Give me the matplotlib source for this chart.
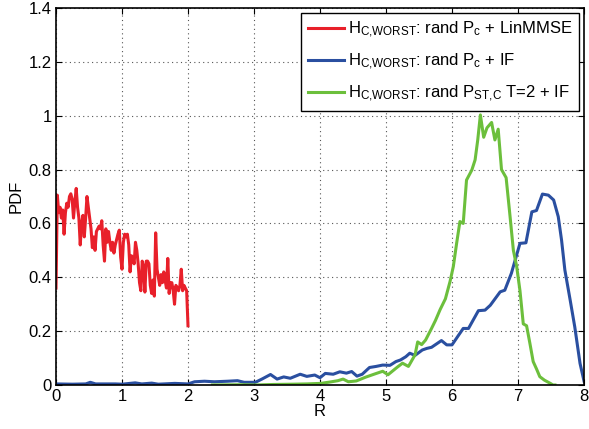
import numpy as np
import matplotlib
matplotlib.use("Agg")
import matplotlib.pyplot as plt

# red: LinMMSE, sampled 0..2 on an even grid
red_pdf = [0.36, 0.705, 0.64, 0.66, 0.62, 0.65, 0.56, 0.64, 0.675, 0.66,
           0.70, 0.71, 0.69, 0.62, 0.68, 0.73, 0.66, 0.62, 0.52, 0.60,
           0.63, 0.55, 0.62, 0.70, 0.66, 0.62, 0.58, 0.51, 0.55, 0.50,
           0.57, 0.58, 0.59, 0.58, 0.61, 0.52, 0.46, 0.58, 0.53, 0.57,
           0.53, 0.50, 0.53, 0.49, 0.52, 0.54, 0.56, 0.575, 0.475, 0.43,
           0.53, 0.56, 0.55, 0.56, 0.52, 0.42, 0.48, 0.47, 0.45, 0.53,
           0.50, 0.45, 0.38, 0.35, 0.46, 0.44, 0.345, 0.46, 0.46, 0.45,
           0.37, 0.34, 0.39, 0.33, 0.565, 0.43, 0.40, 0.37, 0.41, 0.38,
           0.42, 0.39, 0.36, 0.47, 0.34, 0.38, 0.38, 0.35, 0.30, 0.37,
           0.36, 0.35, 0.37, 0.43, 0.35, 0.37, 0.36, 0.35, 0.22]
red_r = np.linspace(0, 2, len(red_pdf))

# blue: rand Pc + IF
blue_r = [0.00, 0.25, 0.45, 0.52, 0.60, 0.90, 1.00, 1.20, 1.30, 1.45, 1.55, 1.80,
          2.00, 2.10, 2.25, 2.40, 2.60, 2.75, 2.85, 3.02, 3.12, 3.25, 3.35, 3.45,
          3.55, 3.70, 3.80, 3.92, 4.00, 4.08, 4.20, 4.30, 4.40, 4.48, 4.56, 4.64,
          4.75, 4.85, 4.95, 5.06, 5.15, 5.22, 5.30, 5.36, 5.44, 5.55, 5.62, 5.69,
          5.84, 5.92, 6.00, 6.10, 6.17, 6.25, 6.40, 6.50, 6.58, 6.73, 6.80, 6.90,
          7.03, 7.12, 7.21, 7.28, 7.37, 7.46, 7.54, 7.61, 7.66, 7.71, 7.79, 7.86,
          7.94, 8.00]
blue_pdf = [0.004, 0.003, 0.004, 0.010, 0.004, 0.004, 0.003, 0.008, 0.004, 0.007, 0.003, 0.006,
            0.004, 0.012, 0.014, 0.012, 0.014, 0.016, 0.010, 0.010, 0.022, 0.039, 0.022, 0.030,
            0.025, 0.040, 0.032, 0.037, 0.027, 0.043, 0.040, 0.049, 0.044, 0.050, 0.033, 0.040,
            0.065, 0.069, 0.074, 0.073, 0.087, 0.093, 0.105, 0.118, 0.110, 0.130, 0.136, 0.140,
            0.165, 0.149, 0.149, 0.185, 0.21, 0.21, 0.276, 0.278, 0.296, 0.346, 0.352, 0.415,
            0.526, 0.528, 0.643, 0.648, 0.709, 0.705, 0.687, 0.625, 0.538, 0.427, 0.316, 0.216,
            0.080, 0.015]

# green: rand P_ST,C T=2 + IF
green_r = [2.37, 2.80, 3.02, 3.30, 3.59, 3.80, 4.01, 4.15, 4.27, 4.35, 4.43, 4.55,
           4.69, 4.83, 4.95, 5.03, 5.17, 5.25, 5.34, 5.44, 5.48, 5.54, 5.60, 5.69,
           5.75, 5.82, 5.90, 5.97, 6.02, 6.07, 6.12, 6.17, 6.22, 6.30, 6.35, 6.39,
           6.43, 6.48, 6.53, 6.60, 6.65, 6.70, 6.75, 6.82, 6.88, 6.93, 6.98, 7.03,
           7.08, 7.13, 7.18, 7.23, 7.28, 7.33, 7.40, 7.49, 7.53, 7.56]
green_pdf = [0.0, 0.001, 0.0, 0.002, 0.003, 0.004, 0.006, 0.011, 0.016, 0.022, 0.012, 0.015,
             0.029, 0.041, 0.051, 0.038, 0.066, 0.081, 0.069, 0.112, 0.160, 0.150, 0.167, 0.21,
             0.24, 0.28, 0.32, 0.384, 0.44, 0.526, 0.607, 0.60, 0.761, 0.798, 0.836, 0.91,
             1.003, 0.92, 0.955, 0.975, 0.91, 0.95, 0.80, 0.77, 0.625, 0.50, 0.44, 0.35,
             0.227, 0.22, 0.155, 0.087, 0.06, 0.031, 0.018, 0.006, 0.0, 0.0]

labels = [r"H$_{C{,}WORST}$: rand P$_c$ + LinMMSE",
          r"H$_{C{,}WORST}$: rand P$_c$ + IF",
          r"H$_{C{,}WORST}$: rand P$_{ST{,}C}$ T=2 + IF"]

plt.rcParams["font.family"] = ["Liberation Sans", "DejaVu Sans"]
plt.rcParams["mathtext.default"] = "regular"

fig = plt.figure(figsize=(5.89, 4.29), dpi=100)
ax = fig.add_axes([56 / 589, 1 - 385 / 429, 528 / 589, 377 / 429])

ax.plot(red_r, red_pdf, color="#e8202a", lw=2.2, label=labels[0])
ax.plot(blue_r, blue_pdf, color="#2a4fa0", lw=2.2, label=labels[1])
ax.plot(green_r, green_pdf, color="#6cbf3c", lw=2.2, label=labels[2])

ax.set_xlim(0, 8)
ax.set_ylim(0, 1.4)
ax.set_xticks(range(0, 9))
ax.set_yticks(np.arange(0, 1.41, 0.2))
ax.set_yticklabels(["0", "0.2", "0.4", "0.6", "0.8", "1", "1.2", "1.4"])
ax.grid(True, linestyle=(0, (1, 3)), color="#555555", linewidth=0.8)
ax.tick_params(direction="in", top=True, right=True, labelsize=12, length=4, pad=3)
for s in ax.spines.values():
    s.set_linewidth(1.2)
ax.set_xlabel("R", fontsize=12, labelpad=0)
ax.set_ylabel("PDF", fontsize=12, labelpad=4)

leg = ax.legend(loc="upper right", fontsize=12, fancybox=False, framealpha=1,
                edgecolor="black", handlelength=2.2, handletextpad=0.2,
                labelspacing=0.7, borderaxespad=0.3, borderpad=0.4)
leg.get_frame().set_linewidth(1.0)

fig.savefig("out.png", dpi=100)
